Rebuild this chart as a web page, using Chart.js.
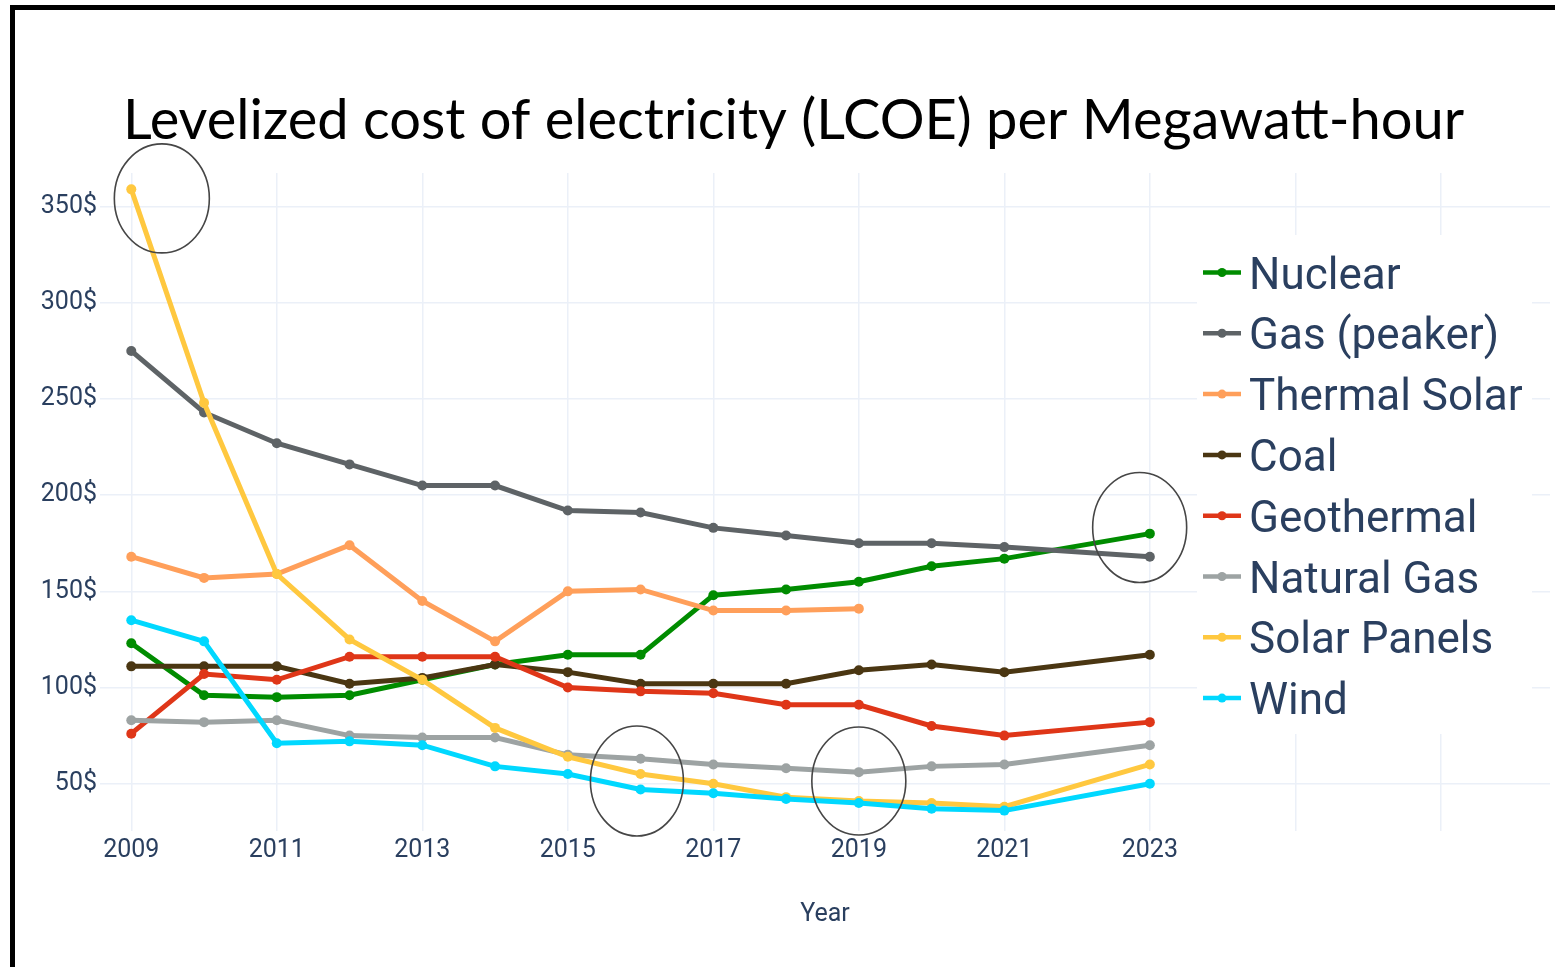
<!DOCTYPE html>
<html>
<head>
<meta charset="utf-8">
<script src="https://cdn.jsdelivr.net/npm/chart.js@4.4.1/dist/chart.umd.min.js"></script>
<style>
  html, body { margin: 0; padding: 0; background: #fff; }
  #frame {
    position: absolute; left: 10px; top: 5px; width: 1545px; height: 962px;
    border-top: 5px solid #000; border-left: 5px solid #000; box-sizing: border-box;
  }
  #wrap { position: absolute; left: 0; top: 0; }
</style>
</head>
<body>
<div id="frame"></div>
<div id="wrap"><canvas id="lcoe" width="1555" height="967"></canvas></div>
<script>
// cost per MWh in $, one value per year (no 2022 figure)
const years = [2009, 2010, 2011, 2012, 2013, 2014, 2015, 2016, 2017, 2018, 2019, 2020, 2021, 2023]

const nuclear      = [123, 96, 95, 96, 104, 112, 117, 117, 148, 151, 155, 163, 167, 180]
const gasPeaker    = [275, 243, 227, 216, 205, 205, 192, 191, 183, 179, 175, 175, 173, 168]
const thermalSolar = [168, 157, 159, 174, 145, 124, 150, 151, 140, 140, 141]
const coal         = [111, 111, 111, 102, 105, 112, 108, 102, 102, 102, 109, 112, 108, 117]
const geothermal   = [76, 107, 104, 116, 116, 116, 100, 98, 97, 91, 91, 80, 75, 82]
const naturalGas   = [83, 82, 83, 75, 74, 74, 65, 63, 60, 58, 56, 59, 60, 70]
const solarPanels  = [359, 248, 159, 125, 104, 79, 64, 55, 50, 43, 41, 40, 38, 60]
const wind         = [135, 124, 71, 72, 70, 59, 55, 47, 45, 42, 40, 37, 36, 50]

const seriesNames  = ['Nuclear', 'Gas (peaker)', 'Thermal Solar', 'Coal', 'Geothermal', 'Natural Gas', 'Solar Panels', 'Wind']
const seriesValues = [nuclear, gasPeaker, thermalSolar, coal, geothermal, naturalGas, solarPanels, wind]
const seriesColors = ['#008c00', '#5e6366', '#ff9f5a', '#4a3612', '#df3618', '#9da3a3', '#ffc83f', '#00d8ff']

const xTicks = [2009, 2011, 2013, 2015, 2017, 2019, 2021, 2023, 2025, 2027]
const yTicks = [50, 100, 150, 200, 250, 300, 350]

// hand drawn rings around some points (year, $)
const rings = [
  {x: 2009.42, y: 354.3, rx: 47.5, ry: 54.5},
  {x: 2015.95, y: 51.4, rx: 46.5, ry: 55},
  {x: 2019.0, y: 51.4, rx: 47, ry: 54},
  {x: 2022.86, y: 183.2, rx: 47, ry: 55}
]

const textColor = '#2a3f5f'
const gridColor = '#ebf0f8'

Chart.defaults.font.family = 'Roboto'

const datasets = seriesNames.map(function(name, i) {
  return {
    label: name,
    data: seriesValues[i].map(function(v, k) { return {x: years[k], y: v} }),
    borderColor: seriesColors[i],
    backgroundColor: seriesColors[i],
    pointBackgroundColor: seriesColors[i],
    pointBorderColor: seriesColors[i],
    borderWidth: 5,
    pointRadius: 5,
    pointBorderWidth: 0,
    tension: 0,
    order: seriesNames.length - i
  }
})

const ringsPlugin = {
  id: 'rings',
  afterDatasetsDraw(chart) {
    const ctx = chart.ctx
    const xs = chart.scales.x, ys = chart.scales.y
    ctx.save()
    ctx.strokeStyle = '#464646'
    ctx.lineWidth = 1.6
    rings.forEach(function(r) {
      ctx.beginPath()
      ctx.ellipse(xs.getPixelForValue(r.x), ys.getPixelForValue(r.y), r.rx, r.ry, 0, 0, Math.PI * 2)
      ctx.stroke()
    })
    ctx.restore()
  }
}

// legend sits inside the plot, on a white box over the grid
const insideLegend = {
  id: 'insideLegend',
  afterDatasetsDraw(chart) {
    const ctx = chart.ctx
    ctx.save()
    ctx.fillStyle = '#fff'
    ctx.fillRect(1197, 235, 335, 499)
    ctx.font = '44px Roboto'
    ctx.textBaseline = 'alphabetic'
    ctx.textAlign = 'left'
    chart.data.datasets.forEach(function(ds, i) {
      const y = 272.5 + i * 60.8
      ctx.strokeStyle = ds.borderColor
      ctx.lineWidth = 4.5
      ctx.beginPath()
      ctx.moveTo(1203, y)
      ctx.lineTo(1241, y)
      ctx.stroke()
      ctx.fillStyle = ds.borderColor
      ctx.beginPath()
      ctx.arc(1222, y, 4.5, 0, Math.PI * 2)
      ctx.fill()
      ctx.fillStyle = textColor
      ctx.fillText(ds.label, 1249, y + 16)
    })
    ctx.restore()
  }
}

new Chart(document.getElementById('lcoe'), {
  type: 'line',
  data: { datasets: datasets },
  options: {
    responsive: false,
    animation: false,
    layout: { padding: { left: 32, top: 0, right: 0, bottom: 0 } },
    plugins: {
      legend: { display: false },
      tooltip: { enabled: false },
      title: {
        display: true,
        text: 'Levelized cost of electricity (LCOE) per Megawatt-hour',
        color: '#000',
        font: { family: 'Lato', size: 56, weight: 'normal', lineHeight: 1.2 },
        padding: { top: 87, bottom: 18.8 }
      }
    },
    scales: {
      x: {
        type: 'linear',
        min: 2008.57,
        max: 2028.5,
        afterBuildTicks: function(scale) {
          scale.ticks = xTicks.map(function(v) { return {value: v} })
        },
        afterFit: function(scale) { scale.height = 136 },
        ticks: {
          autoSkip: false,
          maxRotation: 0,
          padding: 5,
          color: textColor,
          font: { size: 25 },
          callback: function(v) { return v <= 2023 ? String(v) : '' }
        },
        grid: { color: gridColor, lineWidth: 1.5, drawTicks: false },
        border: { display: false },
        title: {
          display: true,
          text: 'Year',
          color: textColor,
          font: { size: 25 },
          padding: { top: 0, bottom: 37 }
        }
      },
      y: {
        min: 25.4,
        max: 367.5,
        afterBuildTicks: function(scale) {
          scale.ticks = yTicks.map(function(v) { return {value: v} })
        },
        afterFit: function(scale) { scale.width = 68 },
        ticks: {
          padding: 3,
          color: textColor,
          font: { size: 25 },
          callback: function(v) { return v + '$' }
        },
        grid: { color: gridColor, lineWidth: 1.5, drawTicks: false },
        border: { display: false }
      }
    }
  },
  plugins: [ringsPlugin, insideLegend]
})
</script>
</body>
</html>
